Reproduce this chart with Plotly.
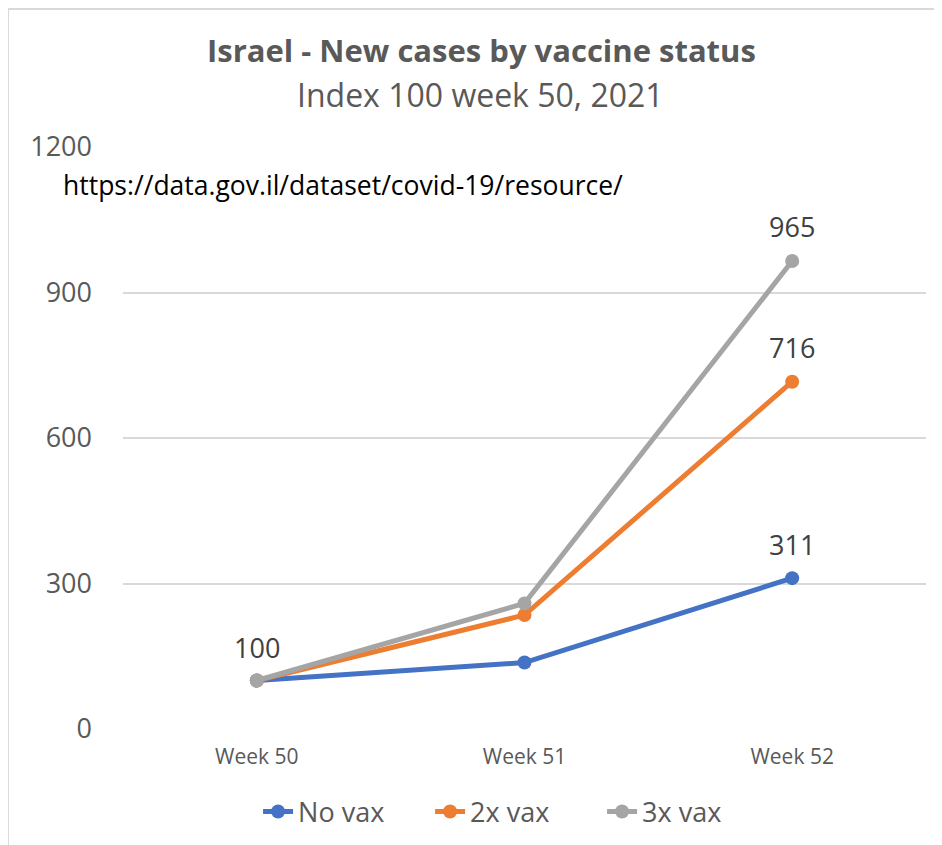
import plotly.graph_objects as go

weeks = ["Week 50", "Week 51", "Week 52"]
no_vax = [100, 137, 311]
two_vax = [100, 235, 716]
three_vax = [100, 259, 965]
y_ticks = [0, 300, 600, 900, 1200]

FONT = "'Open Sans', Lato, sans-serif"
OFF = 8  # page body margin
W, H = 942, 845
# plot area in screen pixels
SX0, SX1, SY0, SY1 = 123, 925.6, 147, 729
L, R, T, B = SX0 - OFF, W - (SX1 - OFF), SY0 - OFF, H - (SY1 - OFF)
PW, PH = SX1 - SX0, SY1 - SY0

def px(x):
    return (x - SX0) / PW

def py(y):
    return (SY1 - y) / PH

series = [
    ("No vax", no_vax, "#4472C4"),
    ("2x vax", two_vax, "#ED7D31"),
    ("3x vax", three_vax, "#A5A5A5"),
]

fig = go.Figure()
for name, vals, col in series:
    fig.add_trace(go.Scatter(
        x=weeks, y=vals, name=name, mode="lines+markers",
        line=dict(color=col, width=5),
        marker=dict(color=col, size=14),
    ))

annotations = []
for name, vals, col in series:
    annotations.append(dict(x=weeks[-1], y=vals[-1], xref="x", yref="y",
                            text=str(vals[-1]), showarrow=False, yshift=34,
                            font=dict(family=FONT, size=27, color="#404040")))
annotations.append(dict(x=weeks[0], y=three_vax[0], xref="x", yref="y",
                        text=str(three_vax[0]), showarrow=False, yshift=33,
                        font=dict(family=FONT, size=27, color="#404040")))

annotations += [
    dict(x=px(481), y=py(50), xref="paper", yref="paper", showarrow=False,
         text="<b>Israel - New cases by vaccine status</b>",
         xanchor="center", yanchor="middle",
         font=dict(family=FONT, size=31, color="#595959")),
    dict(x=px(480), y=py(94), xref="paper", yref="paper", showarrow=False,
         text="Index 100 week 50, 2021",
         xanchor="center", yanchor="middle",
         font=dict(family=FONT, size=32, color="#595959")),
    dict(x=px(61), y=py(185), xref="paper", yref="paper", showarrow=False,
         text="https://data.gov.il/dataset/covid-19/resource/",
         xanchor="left", yanchor="middle",
         font=dict(family=FONT, size=26.5, color="#000000")),
]

shapes = [
    dict(type="line", xref="paper", yref="paper", x0=px(8), x1=px(W + 20),
         y0=py(9), y1=py(9), line=dict(color="#D9D9D9", width=2)),
    dict(type="line", xref="paper", yref="paper", x0=px(8), x1=px(8),
         y0=py(9), y1=py(H + 20), line=dict(color="#D9D9D9", width=2)),
]

fig.update_layout(
    width=W, height=H,
    margin=dict(l=L, r=R, t=T, b=B),
    paper_bgcolor="white", plot_bgcolor="white",
    showlegend=True,
    legend=dict(orientation="h", x=px(258), xanchor="left", y=py(812), yanchor="middle",
                entrywidth=127, entrywidthmode="pixels",
                font=dict(family=FONT, size=27, color="#595959"),
                itemclick=False),
    annotations=annotations,
    shapes=shapes,
    xaxis=dict(range=[-0.5, 2.5], showgrid=False, zeroline=False, showline=False,
               tickfont=dict(family=FONT, size=21, color="#595959"),
               ticklabelstandoff=13, fixedrange=True),
    yaxis=dict(range=[0, 1200], tickvals=y_ticks, ticktext=[str(v) for v in y_ticks],
               showgrid=True, gridcolor="#D9D9D9", gridwidth=1.5,
               zeroline=False, showline=False,
               tickfont=dict(family=FONT, size=27, color="#595959"),
               ticklabelstandoff=30, fixedrange=True),
)

fig.write_html("out.html")
